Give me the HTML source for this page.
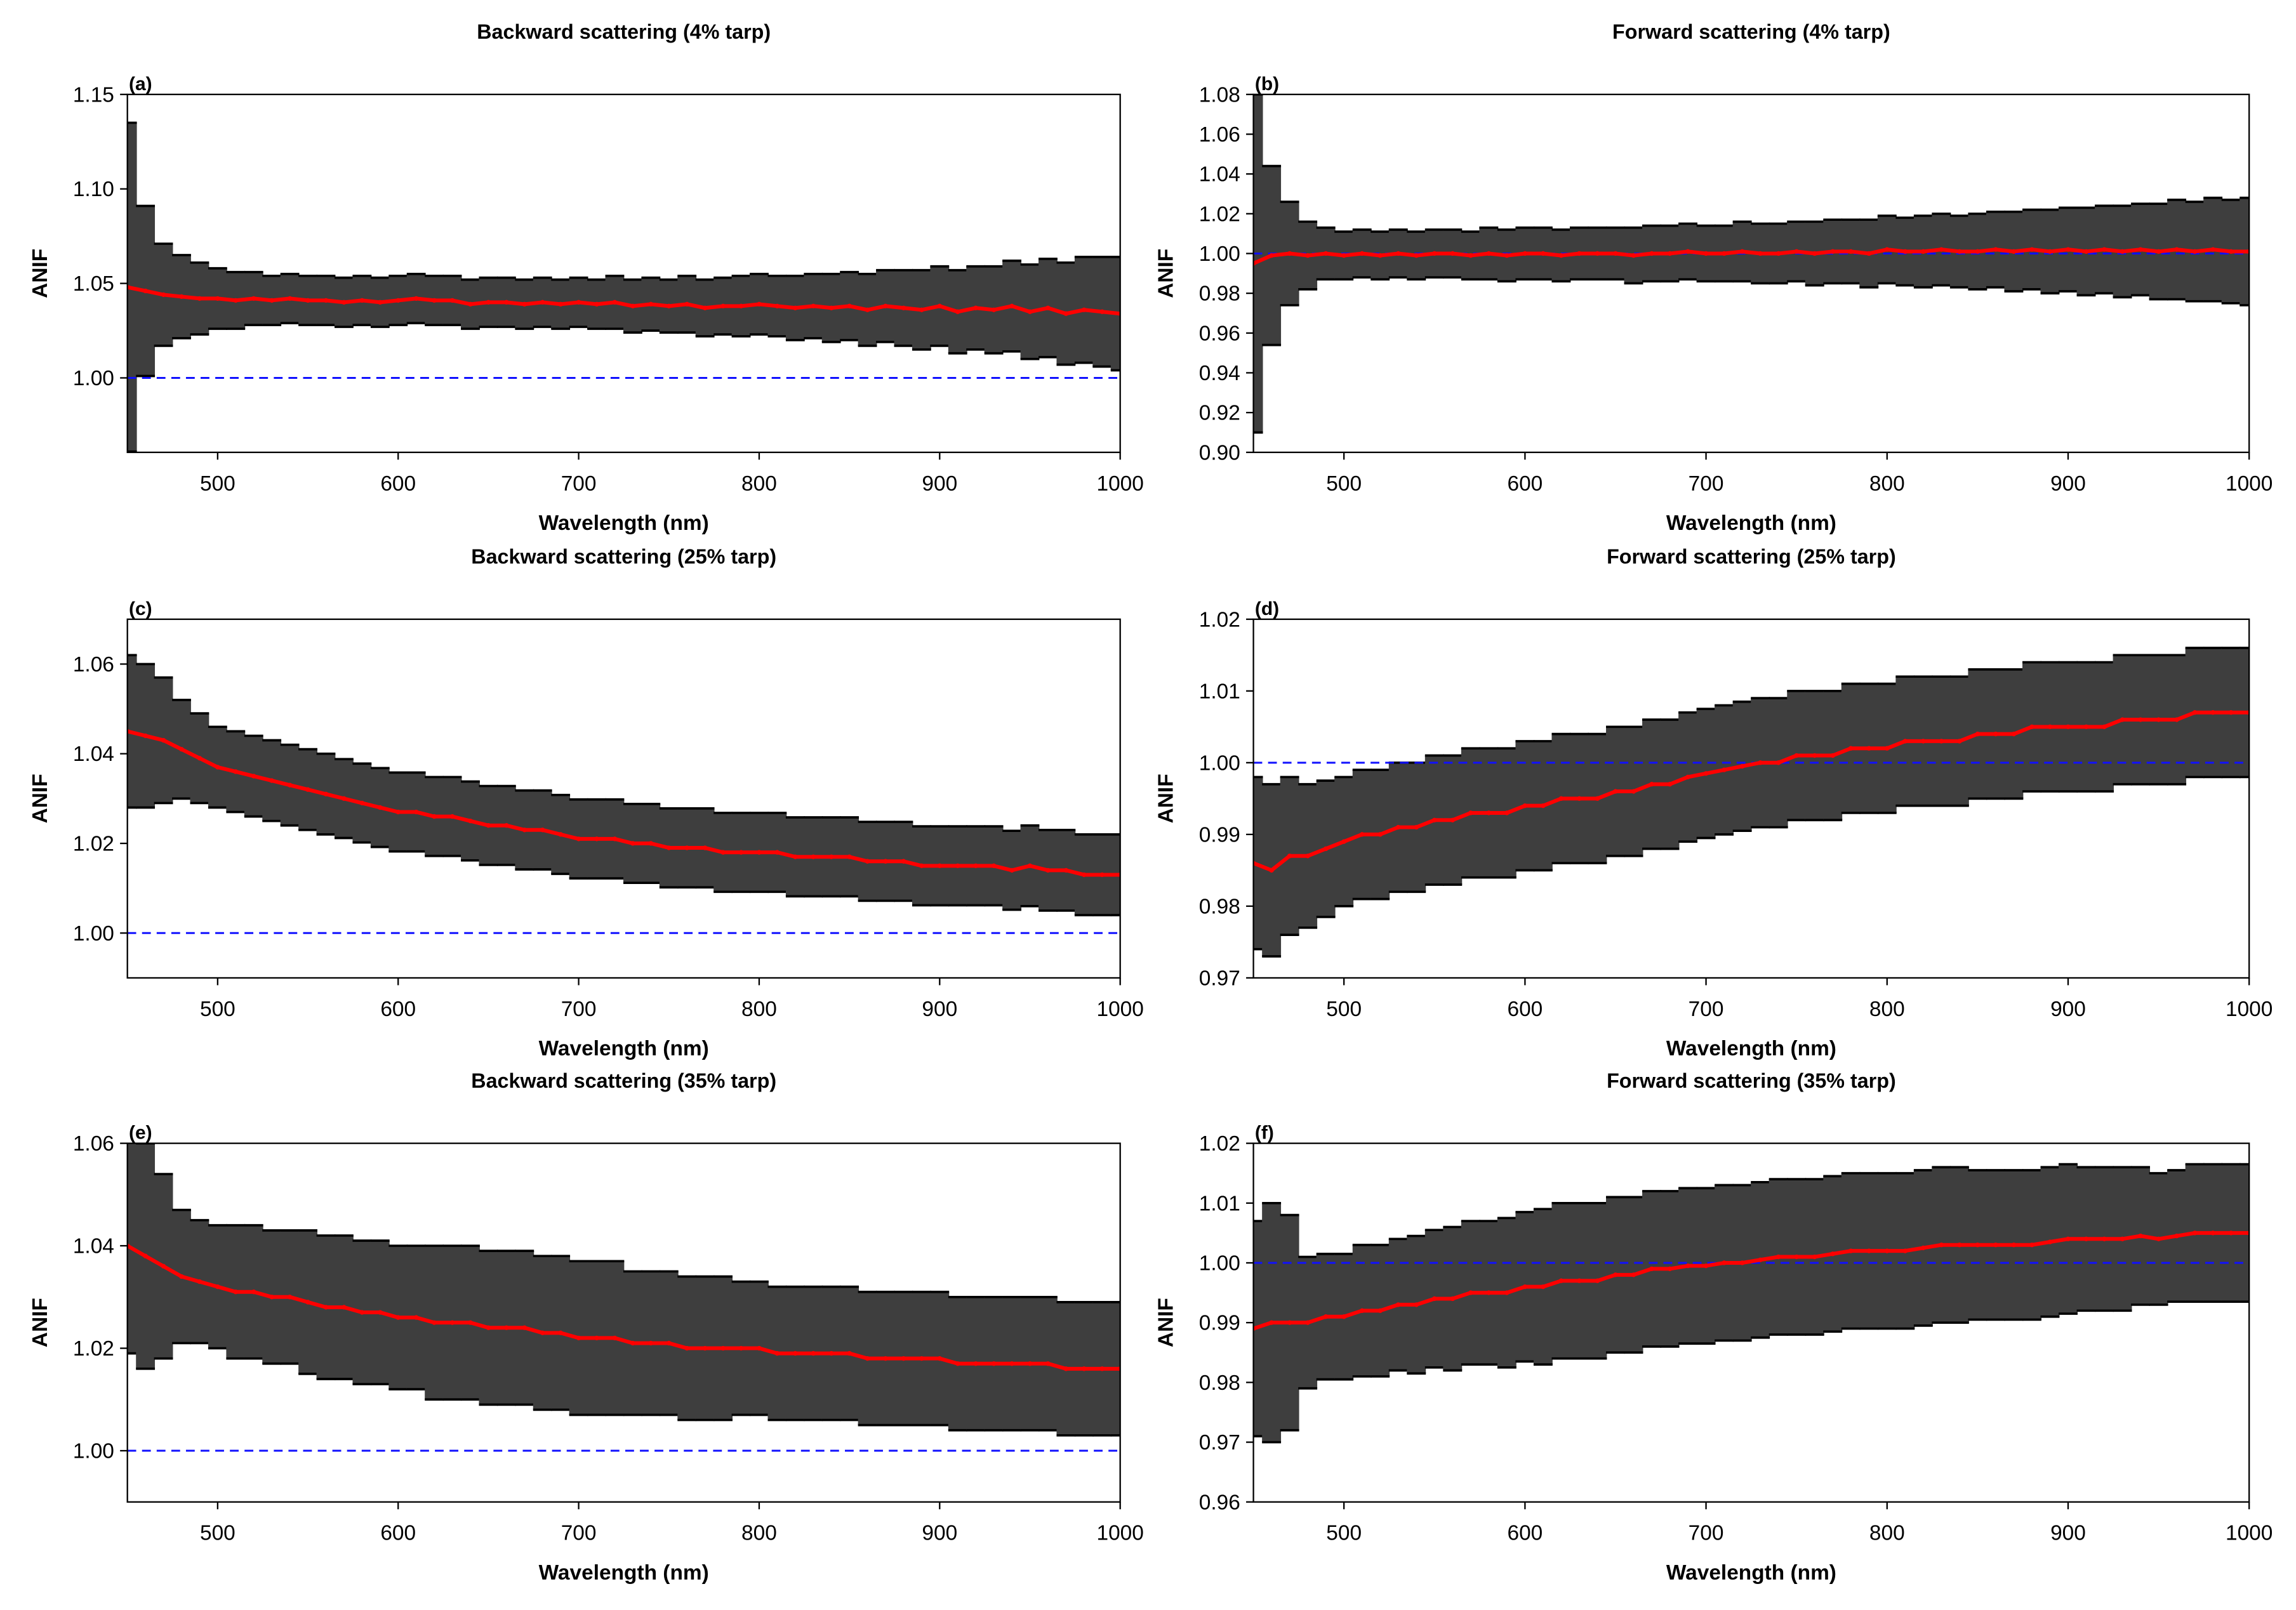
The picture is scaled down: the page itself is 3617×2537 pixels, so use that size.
<!DOCTYPE html>
<html><head><meta charset="utf-8"><style>
html,body{margin:0;padding:0;background:#fff}
svg{display:block}
text{font-family:"Liberation Sans",Arial,sans-serif;fill:#000}
</style></head><body>
<svg id="fig" width="3617" height="2537" viewBox="0 0 1568 1099.8" xmlns="http://www.w3.org/2000/svg"></svg>
<script>
const wavelengths=[450,460,470,480,490,500,510,520,530,540,550,560,570,580,590,600,610,620,630,640,650,660,670,680,690,700,710,720,730,740,750,760,770,780,790,800,810,820,830,840,850,860,870,880,890,900,910,920,930,940,950,960,970,980,990,1000];
const xTicks=[500,600,700,800,900,1000];
const meanA=[1.048,1.046,1.044,1.043,1.042,1.042,1.041,1.042,1.041,1.042,1.041,1.041,1.040,1.041,1.040,1.041,1.042,1.041,1.041,1.039,1.040,1.040,1.039,1.040,1.039,1.040,1.039,1.040,1.038,1.039,1.038,1.039,1.037,1.038,1.038,1.039,1.038,1.037,1.038,1.037,1.038,1.036,1.038,1.037,1.036,1.038,1.035,1.037,1.036,1.038,1.035,1.037,1.034,1.036,1.035,1.034];
const errA=[0.087,0.045,0.027,0.022,0.019,0.016,0.015,0.014,0.013,0.013,0.013,0.013,0.013,0.013,0.013,0.013,0.013,0.013,0.013,0.013,0.013,0.013,0.013,0.013,0.013,0.013,0.013,0.014,0.014,0.014,0.014,0.015,0.015,0.015,0.016,0.016,0.016,0.017,0.017,0.018,0.018,0.019,0.019,0.020,0.021,0.021,0.022,0.022,0.023,0.024,0.025,0.026,0.027,0.028,0.029,0.030];
const meanB=[0.995,0.999,1.000,0.999,1.000,0.999,1.000,0.999,1.000,0.999,1.000,1.000,0.999,1.000,0.999,1.000,1.000,0.999,1.000,1.000,1.000,0.999,1.000,1.000,1.001,1.000,1.000,1.001,1.000,1.000,1.001,1.000,1.001,1.001,1.000,1.002,1.001,1.001,1.002,1.001,1.001,1.002,1.001,1.002,1.001,1.002,1.001,1.002,1.001,1.002,1.001,1.002,1.001,1.002,1.001,1.001];
const errB=[0.085,0.045,0.026,0.017,0.013,0.012,0.012,0.012,0.012,0.012,0.012,0.012,0.012,0.013,0.013,0.013,0.013,0.013,0.013,0.013,0.013,0.014,0.014,0.014,0.014,0.014,0.014,0.015,0.015,0.015,0.015,0.016,0.016,0.016,0.017,0.017,0.017,0.018,0.018,0.018,0.019,0.019,0.020,0.020,0.021,0.021,0.022,0.022,0.023,0.023,0.024,0.025,0.025,0.026,0.026,0.027];
const meanC=[1.045,1.044,1.043,1.041,1.039,1.037,1.036,1.035,1.034,1.033,1.032,1.031,1.030,1.029,1.028,1.027,1.027,1.026,1.026,1.025,1.024,1.024,1.023,1.023,1.022,1.021,1.021,1.021,1.020,1.020,1.019,1.019,1.019,1.018,1.018,1.018,1.018,1.017,1.017,1.017,1.017,1.016,1.016,1.016,1.015,1.015,1.015,1.015,1.015,1.014,1.015,1.014,1.014,1.013,1.013,1.013];
const errC=[0.017,0.016,0.014,0.011,0.010,0.009,0.009,0.009,0.009,0.009,0.009,0.009,0.0088,0.0088,0.0088,0.0088,0.0088,0.0088,0.0088,0.0088,0.0088,0.0088,0.0088,0.0088,0.0088,0.0088,0.0088,0.0088,0.0088,0.0088,0.0088,0.0088,0.0088,0.0088,0.0088,0.0088,0.0088,0.0088,0.0088,0.0088,0.0088,0.0088,0.0088,0.0088,0.0088,0.0088,0.0088,0.0088,0.0088,0.0088,0.009,0.009,0.009,0.009,0.009,0.009];
const meanD=[0.986,0.985,0.987,0.987,0.988,0.989,0.990,0.990,0.991,0.991,0.992,0.992,0.993,0.993,0.993,0.994,0.994,0.995,0.995,0.995,0.996,0.996,0.997,0.997,0.998,0.9985,0.999,0.9995,1.000,1.000,1.001,1.001,1.001,1.002,1.002,1.002,1.003,1.003,1.003,1.003,1.004,1.004,1.004,1.005,1.005,1.005,1.005,1.005,1.006,1.006,1.006,1.006,1.007,1.007,1.007,1.007];
const errD=[0.012,0.012,0.011,0.010,0.0095,0.009,0.009,0.009,0.009,0.009,0.009,0.009,0.009,0.009,0.009,0.009,0.009,0.009,0.009,0.009,0.009,0.009,0.009,0.009,0.009,0.009,0.009,0.009,0.009,0.009,0.009,0.009,0.009,0.009,0.009,0.009,0.009,0.009,0.009,0.009,0.009,0.009,0.009,0.009,0.009,0.009,0.009,0.009,0.009,0.009,0.009,0.009,0.009,0.009,0.009,0.009];
const meanE=[1.040,1.038,1.036,1.034,1.033,1.032,1.031,1.031,1.030,1.030,1.029,1.028,1.028,1.027,1.027,1.026,1.026,1.025,1.025,1.025,1.024,1.024,1.024,1.023,1.023,1.022,1.022,1.022,1.021,1.021,1.021,1.020,1.020,1.020,1.020,1.020,1.019,1.019,1.019,1.019,1.019,1.018,1.018,1.018,1.018,1.018,1.017,1.017,1.017,1.017,1.017,1.017,1.016,1.016,1.016,1.016];
const errE=[0.021,0.022,0.018,0.013,0.012,0.012,0.013,0.013,0.013,0.013,0.014,0.014,0.014,0.014,0.014,0.014,0.014,0.015,0.015,0.015,0.015,0.015,0.015,0.015,0.015,0.015,0.015,0.015,0.014,0.014,0.014,0.014,0.014,0.014,0.013,0.013,0.013,0.013,0.013,0.013,0.013,0.013,0.013,0.013,0.013,0.013,0.013,0.013,0.013,0.013,0.013,0.013,0.013,0.013,0.013,0.013];
const meanF=[0.989,0.990,0.990,0.990,0.991,0.991,0.992,0.992,0.993,0.993,0.994,0.994,0.995,0.995,0.995,0.996,0.996,0.997,0.997,0.997,0.998,0.998,0.999,0.999,0.9995,0.9995,1.000,1.000,1.0005,1.001,1.001,1.001,1.0015,1.002,1.002,1.002,1.002,1.0025,1.003,1.003,1.003,1.003,1.003,1.003,1.0035,1.004,1.004,1.004,1.004,1.0045,1.004,1.0045,1.005,1.005,1.005,1.005];
const errF=[0.018,0.020,0.018,0.011,0.0105,0.0105,0.011,0.011,0.011,0.0115,0.0115,0.012,0.012,0.012,0.0125,0.0125,0.013,0.013,0.013,0.013,0.013,0.013,0.013,0.013,0.013,0.013,0.013,0.013,0.013,0.013,0.013,0.013,0.013,0.013,0.013,0.013,0.013,0.013,0.013,0.013,0.0125,0.0125,0.0125,0.0125,0.0125,0.0125,0.012,0.012,0.012,0.0115,0.011,0.011,0.0115,0.0115,0.0115,0.0115];
const ticksA=[1.00,1.05,1.10,1.15];
const ticksB=[0.90,0.92,0.94,0.96,0.98,1.00,1.02,1.04,1.06,1.08];
const ticksC=[1.00,1.02,1.04,1.06];
const ticksD=[0.97,0.98,0.99,1.00,1.01,1.02];
const ticksE=[1.00,1.02,1.04,1.06];
const ticksF=[0.96,0.97,0.98,0.99,1.00,1.01,1.02];

const NS="http://www.w3.org/2000/svg";
const svg=document.getElementById('fig');
function mk(tag,attrs,parent){const e=document.createElementNS(NS,tag);for(const k in attrs)e.setAttribute(k,attrs[k]);(parent||svg).appendChild(e);return e;}

const panels=[
 {id:'a',title:'Backward scattering (4% tarp)',x0:87,x1:765,y0:64.5,y1:309,ymin:0.9606,ymax:1.15,ticks:ticksA,dec:2,mean:meanA,err:errA},
 {id:'b',title:'Forward scattering (4% tarp)',x0:856,x1:1536,y0:64.5,y1:309,ymin:0.90,ymax:1.08,ticks:ticksB,dec:2,mean:meanB,err:errB},
 {id:'c',title:'Backward scattering (25% tarp)',x0:87,x1:765,y0:423,y1:668,ymin:0.99,ymax:1.07,ticks:ticksC,dec:2,mean:meanC,err:errC},
 {id:'d',title:'Forward scattering (25% tarp)',x0:856,x1:1536,y0:423,y1:668,ymin:0.97,ymax:1.02,ticks:ticksD,dec:2,mean:meanD,err:errD},
 {id:'e',title:'Backward scattering (35% tarp)',x0:87,x1:765,y0:781,y1:1026,ymin:0.99,ymax:1.06,ticks:ticksE,dec:2,mean:meanE,err:errE},
 {id:'f',title:'Forward scattering (35% tarp)',x0:856,x1:1536,y0:781,y1:1026,ymin:0.96,ymax:1.02,ticks:ticksF,dec:2,mean:meanF,err:errF}
];

panels.forEach(p=>{
  const g=mk('g',{});
  
  
  const sx=w=>p.x0+(w-450)/550*(p.x1-p.x0);
  const sy=v=>p.y1-(v-p.ymin)/(p.ymax-p.ymin)*(p.y1-p.y0);
  const cx=(p.x0+p.x1)/2, cy=(p.y0+p.y1)/2;
  const bw=(sx(460)-sx(450))+0.6;
  const t=mk('text',{x:cx,y:p.y0-38,'text-anchor':'middle','font-size':14,'font-weight':'bold'},g);
  t.textContent=p.title;
  
  
  const lab=mk('text',{x:p.x0+1,y:p.y0-3,'font-size':13,'font-weight':'bold'},g);
  lab.textContent='('+p.id+')';
  
  
  const clipId='clip'+p.id;
  const cp=mk('clipPath',{id:clipId},g);
  mk('rect',{x:p.x0,y:p.y0,width:p.x1-p.x0,height:p.y1-p.y0},cp);
  const plot=mk('g',{'clip-path':'url(#'+clipId+')'},g);
  
  
  wavelengths.forEach((w,i)=>{
    const x=sx(w), yt=sy(p.mean[i]+p.err[i]), yb=sy(p.mean[i]-p.err[i]);
    const b=mk('line',{x1:x,x2:x,y1:yt,y2:yb,stroke:'#3e3e3e','stroke-width':bw},plot);
    
    
    const c1=mk('line',{x1:x-bw/2,x2:x+bw/2,y1:yt,y2:yt,stroke:'#000','stroke-width':1.6},plot);
    
    
    const c2=mk('line',{x1:x-bw/2,x2:x+bw/2,y1:yb,y2:yb,stroke:'#000','stroke-width':1.6},plot);
    
    
  });
  const ref=mk('line',{x1:p.x0,x2:p.x1,y1:sy(1),y2:sy(1),stroke:'#1010ff','stroke-width':1.3,'stroke-dasharray':'6,4'},plot);
  
  
  const pts=wavelengths.map((w,i)=>sx(w)+','+sy(p.mean[i])).join(' ');
  const ml=mk('polyline',{points:pts,fill:'none',stroke:'#ff0000','stroke-width':2.6},plot);
  
  
  wavelengths.forEach((w,i)=>{
    const d=mk('circle',{cx:sx(w),cy:sy(p.mean[i]),r:1.6,fill:'#ff0000'},plot);
    
    
  });
  const fr=mk('rect',{x:p.x0,y:p.y0,width:p.x1-p.x0,height:p.y1-p.y0,fill:'none',stroke:'#000','stroke-width':1},g);
  
  
  xTicks.forEach(v=>{
    const x=sx(v);
    mk('line',{x1:x,x2:x,y1:p.y1,y2:p.y1+5,stroke:'#000','stroke-width':1},g);
    const tl=mk('text',{x:x,y:p.y1+26,'text-anchor':'middle','font-size':14.5},g);
    tl.textContent=v;
    
    
  });
  p.ticks.forEach(v=>{
    const y=sy(v);
    mk('line',{x1:p.x0-5,x2:p.x0,y1:y,y2:y,stroke:'#000','stroke-width':1},g);
    const tl=mk('text',{x:p.x0-9,y:y+5,'text-anchor':'end','font-size':14.5},g);
    tl.textContent=v.toFixed(p.dec);
    
    
  });
  const xl=mk('text',{x:cx,y:p.y1+53,'text-anchor':'middle','font-size':14.5,'font-weight':'bold'},g);
  xl.textContent='Wavelength (nm)';
  
  
  const yx=p.x0-55;
  const yl=mk('text',{x:yx,y:cy,'text-anchor':'middle','font-size':14.5,'font-weight':'bold',transform:'rotate(-90 '+yx+' '+cy+')'},g);
  yl.textContent='ANIF';
  
  
});
</script>
</body></html>
